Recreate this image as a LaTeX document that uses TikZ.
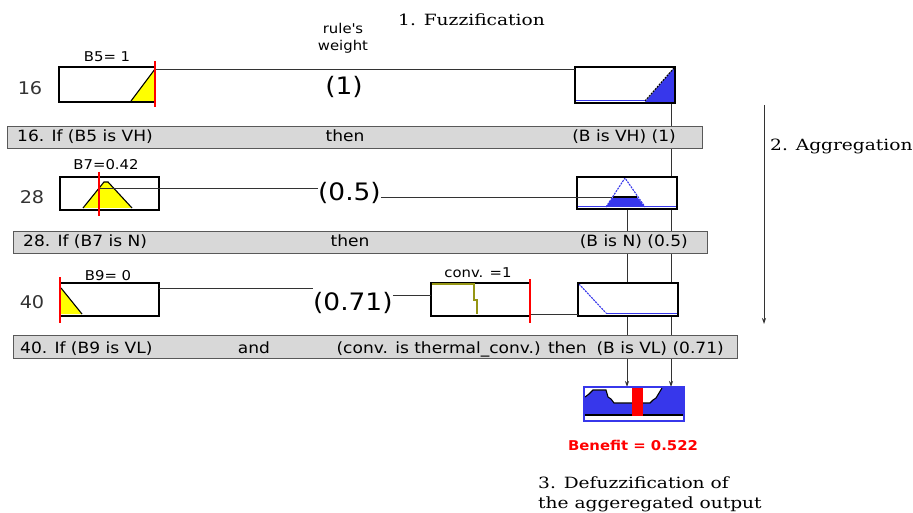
\documentclass[tikz,border=0pt]{standalone}
\usepackage{fontspec}
\setmainfont{DejaVu Sans}[FakeStretch=1.1]
\newfontfamily\deco{DejaVu Serif}[FakeStretch=1.2]
\usetikzlibrary{arrows.meta}
\definecolor{fblue}{RGB}{55,55,235}
\definecolor{fyel}{RGB}{255,255,0}
\definecolor{fred}{RGB}{255,0,0}
\definecolor{folive}{RGB}{150,150,20}
\definecolor{fgray}{RGB}{216,216,216}
\begin{document}
\begin{tikzpicture}[x=1pt,y=-1pt,
  mbox/.style={minimum width=#1,minimum height=33pt,inner sep=0pt,outer sep=0pt,anchor=north west},
  bar/.style={draw=black!65,fill=fgray,line width=0.7pt,minimum width=#1,minimum height=22pt,inner sep=0pt,outer sep=0pt,anchor=north west},
  border/.style={line width=1.7pt,black},
  bt/.style={font=\fontsize{15.5}{17}\selectfont,inner sep=0pt,anchor=base},
  rnum/.style={font=\fontsize{17.5}{19}\selectfont,text=black!80,inner sep=0pt,anchor=base},
  wt/.style={font=\fontsize{24}{26}\selectfont,inner sep=0pt,anchor=base},
  sl/.style={font=\fontsize{13.5}{15}\selectfont,inner sep=0pt,anchor=base},
  ttl/.style={font=\deco\fontsize{15.5}{17}\selectfont,inner sep=0pt,anchor=base west},
  conn/.style={line width=0.8pt,black!80},
  redl/.style={line width=1.8pt,fred},
  stair/.style={line width=1.1pt,black,line join=miter},
  arr/.style={line width=0.8pt,black!80,-{Stealth[length=6pt,width=4pt]}}
]
\useasboundingbox (0,0) rectangle (913,513);

% ---------- headings ----------
\node[ttl] (t1) at (398,26) {1. Fuzzification};
\node[ttl] (t2) at (770,151) {2. Aggregation};
\node[ttl] (t3a) at (538,488) {3. Defuzzification of};
\node[ttl] (t3b) at (538,508) {the aggeregated output};
\node[sl] (rw1) at (343,34) {rule\textquotesingle s};
\node[sl] (rw2) at (343,51) {weight};

% ---------- aggregation arrow ----------
\coordinate (ag1) at (764,105);
\coordinate (ag2) at (764,324);
\draw[arr] (ag1) -- (ag2);

% ---------- nodes (boxes) ----------
\node[mbox=96pt,minimum height=35pt] (in16) at (59,67) {};
\node[mbox=100pt,minimum height=36pt] (out16) at (575,67) {};
\node[mbox=99pt] (in28) at (60,177) {};
\node[mbox=100pt,minimum height=32pt] (out28) at (577,177) {};
\node[mbox=99pt] (in40) at (60,283) {};
\node[mbox=99pt] (cv40) at (431,283) {};
\node[mbox=100pt] (out40) at (578,283) {};
\node[mbox=100pt,minimum height=34pt] (agg) at (584,387) {};

% ---------- vertical aggregation lines ----------
\coordinate (vR) at (671,0);
\coordinate (vL) at (627,0);
\draw[arr] (out16.south -| vR) -- (agg.north -| vR);
\draw[arr] (out28.south -| vL) -- (agg.north -| vL);

% ---------- box backgrounds (hide lines behind) ----------
\foreach \b in {in16,out16,in28,out28,in40,cv40,out40,agg}
  \fill[white] (\b.south west) rectangle (\b.north east);

% ---------- gray rule bars ----------
\node[bar=695pt] (bar16) at (7,126) {};
\node[bar=694pt] (bar28) at (13,231) {};
\node[bar=724pt,minimum height=23pt] (bar40) at (13,335) {};

\node[bt,anchor=base west] (b16a) at (17,142) {16. If (B5 is VH)};
\node[bt] (b16b) at (345,142) {then};
\node[bt,anchor=base east] (b16c) at (676,142) {(B is VH) (1)};

\node[bt,anchor=base west] (b28a) at (23,247) {28. If (B7 is N)};
\node[bt] (b28b) at (350,247) {then};
\node[bt,anchor=base east] (b28c) at (688,247) {(B is N) (0.5)};

\node[bt,anchor=base west] (b40a) at (20,353) {40. If (B9 is VL)};
\node[bt] (b40b) at (254,353) {and};
\node[bt,anchor=base east] (b40c) at (724,353) {(conv. is thermal\_conv.) then\; (B is VL) (0.71)};

% ---------- rule numbers ----------
\node[rnum] (n16) at (30,95) {16};
\node[rnum] (n28) at (32,204) {28};
\node[rnum] (n40) at (32,308) {40};

% ---------- weights ----------
\node[wt] (w16) at (344,95) {(1)};
\node[wt,anchor=base west] (w28) at (318,201) {(0.5)};
\node[wt,anchor=base west] (w40) at (313,310) {(0.71)};

% ---------- input labels ----------
\node[sl] (l16) at (107,62) {B5= 1};
\node[sl] (l28) at (106,170) {B7=0.42};
\node[sl] (l40) at (108,280) {B9= 0};
\node[sl] (l40c) at (478,277) {conv. =1};

% ---------- rule 16 contents ----------
\fill[fyel] (131,101) -- (155,69) -- (155,101) -- cycle;
\draw[stair] (131,101) -- (155,69);
\fill[fblue] (645,102) -- (674,68) -- (674,102) -- cycle;
\draw[stair,dash pattern=on 2pt off 1pt] (645,101) -- (674,68);
\draw[line width=1.4pt,fblue] (576,100.5) -- (645,100.5);
\draw[border] (in16.south west) rectangle (in16.north east);
\draw[border] (out16.south west) rectangle (out16.north east);
\draw[conn] (in16.east |- 0,69) -- (out16.west |- 0,69);
\draw[redl] (155,61) -- (155,107);

% ---------- rule 28 contents ----------
\fill[fyel] (83,208) -- (104,182) -- (108,182) -- (132,208) -- cycle;
\draw[stair] (83,208) -- (104,182) -- (108,182) -- (132,208);
\fill[fblue] (613,197) -- (637,197) -- (645,207) -- (606,207) -- cycle;
\draw[line width=1.1pt,black] (613,197) -- (637,197);
\draw[line width=1.1pt,fblue,dash pattern=on 2pt off 1pt] (606,207) -- (625,178) -- (645,207);
\draw[line width=1.4pt,fblue] (578,206.5) -- (676,206.5);
\draw[border] (in28.south west) rectangle (in28.north east);
\draw[border] (out28.south west) rectangle (out28.north east);
\coordinate (r28) at (99,188);
\coordinate (e28) at (612,197);
\draw[conn] (r28) -- (w28.west |- r28);
\draw[conn] (w28.east |- e28) -- (e28);
\draw[redl] (99,172) -- (99,216);

% ---------- rule 40 contents ----------
\fill[fyel] (61,288) -- (82,314) -- (61,314) -- cycle;
\draw[stair] (61,288) -- (82,314);
\draw[line width=1.1pt,fblue,dash pattern=on 2pt off 1pt] (579,284) -- (606,313);
\draw[line width=1.4pt,fblue] (606,313.5) -- (677,313.5);
\draw[border] (in40.south west) rectangle (in40.north east);
\draw[border] (cv40.south west) rectangle (cv40.north east);
\draw[border] (out40.south west) rectangle (out40.north east);
\draw[line width=1.4pt,folive] (432,284) -- (474,284) -- (474,300) -- (477,300) -- (477,314);
\draw[conn] (in40.east |- 0,288) -- (w40.west |- 0,288);
\draw[conn] (w40.east |- 0,295) -- (cv40.west |- 0,295);
\draw[conn] (cv40.east |- 0,314) -- (out40.west |- 0,314);
\draw[redl] (60,277) -- (60,323);
\draw[redl] (530,279) -- (530,323);

% ---------- aggregated output ----------
\fill[fblue] (585,388) rectangle (684,415);
\fill[white] (585,388) -- (585,397) -- (589,394) -- (593,390) -- (606,390) -- (608,397)
  -- (611,399) -- (614,403) -- (650,403) -- (653,400) -- (656,398) -- (659,393)
  -- (662,388) -- cycle;
\draw[stair] (585,397) -- (589,394) -- (593,390) -- (606,390) -- (608,397)
  -- (611,399) -- (614,403) -- (632,403);
\draw[stair] (643,403) -- (650,403) -- (653,400) -- (656,398) -- (659,393) -- (662,388);
\draw[line width=1.2pt,black] (585,415) -- (684,415);
\fill[fred] (632,388) rectangle (643,416);
\draw[line width=1.3pt,fblue] (agg.south west) rectangle (agg.north east);
\node[font=\bfseries\fontsize{13.5}{15}\selectfont,text=fred,inner sep=0pt,anchor=base] (ben) at (633,450) {Benefit = 0.522};

\end{tikzpicture}
\end{document}
